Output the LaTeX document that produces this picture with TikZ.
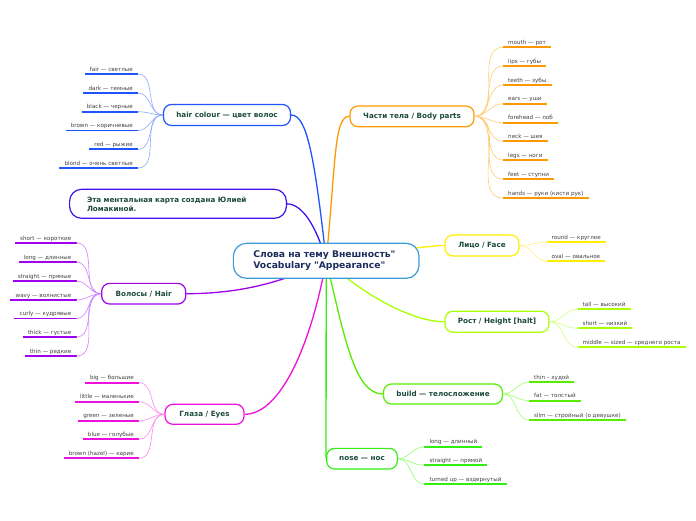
\documentclass[tikz,border=0pt]{standalone}
\usepackage{fontspec}
\setmainfont{DejaVu Sans}
\newfontfamily\dvplain{DejaVu Sans}
\usetikzlibrary{backgrounds,calc}
\definecolor{cBlue}{HTML}{1F55FF}
\definecolor{cBlueL}{HTML}{8FAAFF}
\definecolor{cOrange}{HTML}{FF9900}
\definecolor{cOrangeL}{HTML}{FFCC77}
\definecolor{cViolet}{HTML}{4411EE}
\definecolor{cPurple}{HTML}{A000EE}
\definecolor{cPurpleL}{HTML}{D080FF}
\definecolor{cYellow}{HTML}{FFEE00}
\definecolor{cYellowL}{HTML}{FFF280}
\definecolor{cLime}{HTML}{AAFF00}
\definecolor{cLimeL}{HTML}{D0FF80}
\definecolor{cGreen}{HTML}{55EE00}
\definecolor{cGreenL}{HTML}{A0FF70}
\definecolor{cMagenta}{HTML}{EE11DD}
\definecolor{cMagentaL}{HTML}{FF88F0}
\definecolor{cNose}{HTML}{33EE11}
\definecolor{cNoseL}{HTML}{90FF70}
\definecolor{cCenter}{HTML}{3C9AD8}
\definecolor{topicText}{HTML}{1B4A3C}
\definecolor{centerText}{HTML}{1C2D5E}
\definecolor{leafText}{HTML}{404040}
\tikzset{
  topic/.style={draw, fill=white, rounded corners=8pt, line width=1.2pt, text=topicText,
    font=\fontsize{7.2}{9}\selectfont\bfseries, inner sep=0pt},
  leafL/.style={anchor=south east, font=\fontsize{5.6}{6}\selectfont, text=leafText,
    inner xsep=5pt, inner ysep=1.5pt, text height=4.2pt, text depth=1.2pt},
  leafR/.style={leafL, anchor=south west},
  uline/.style={line width=1.8pt},
  branch/.style={line width=1.3pt},
  twig/.style={line width=0.6pt}
}
% name, x, y, text, colour, source
\newcommand\lfL[6]{%
  \node[leafL] (#1) at (#2,#3) {#4};
  \draw[uline,#5] (#1.south west) -- (#1.south east);
  \draw[twig,#5L] (#6) to[out=180,in=0] (#1.south east);}
\newcommand\lfR[6]{%
  \node[leafR] (#1) at (#2,#3) {#4};
  \draw[uline,#5] (#1.south west) -- (#1.south east);
  \draw[twig,#5L] (#6) to[out=0,in=180] (#1.south west);}
\begin{document}
\begin{tikzpicture}[x=1pt,y=-1pt]
\useasboundingbox (0,0) rectangle (696,520);

% central node
\node[draw=cCenter, fill=white, line width=1.2pt, rounded corners=13pt,
  minimum height=35pt, inner xsep=20pt, text width=145.7pt, align=left,
  text=centerText, font=\dvplain\fontsize{9.2}{11}\selectfont\bfseries] (c) at (326.2,260.8)
  {Слова на тему Внешность"\\Vocabulary "Appearance"};

% topics
\node[topic, draw=cBlue, minimum width=127pt, minimum height=21pt] (hc) at (227,115) {hair colour — цвет волос};
\node[topic, draw=cOrange, minimum width=124pt, minimum height=20.7pt] (bp) at (412,116.3) {Части тела / Body parts};
\node[topic, draw=cViolet, rounded corners=12pt, minimum height=29pt, inner xsep=17.4pt,
  text width=182pt, align=left, font=\fontsize{7.2}{9}\selectfont\bfseries] (mm) at (178,203.8)
  {Эта ментальная карта создана Юлией\\Ломакиной.};
\node[topic, draw=cYellow, minimum width=74pt, minimum height=21pt] (face) at (482,245.5) {Лицо / Face};
\node[topic, draw=cPurple, minimum width=84pt, minimum height=20.7pt] (hair) at (143.7,293.7) {Волосы / Hair};
\node[topic, draw=cLime, minimum width=104pt, minimum height=21pt] (ht) at (497,321.7) {Рост / Height [halt]};
\node[topic, draw=cGreen, minimum width=119pt, minimum height=20pt] (bd) at (443,394) {build — телосложение};
\node[topic, draw=cMagenta, minimum width=79pt, minimum height=20pt] (eyes) at (204.5,414.3) {Глаза / Eyes};
\node[topic, draw=cNose, minimum width=70.7pt, minimum height=20.7pt] (nose) at (362,458.7) {nose — нос};

% main connectors behind the nodes
\begin{pgfonlayer}{background}
  \fill[white] (0,0) rectangle (696,520);
  \draw[branch,cBlue] (c.center) .. controls (314,150) and (306,115) .. (hc.east);
  \draw[branch,cOrange] (c.center) .. controls (336,160) and (334,116.3) .. (bp.west);
  \draw[branch,cViolet] (c.center) .. controls (316,225) and (302,204) .. (mm.east);
  \draw[branch,cYellow] (c.center) .. controls (400,250) and (430,245.5) .. (face.west);
  \draw[branch,cPurple] (c.center) .. controls (285,282) and (240,293.7) .. (hair.east);
  \draw[branch,cLime] (c.center) .. controls (360,292) and (410,321.7) .. (ht.west);
  \draw[branch,cGreen] (c.center) .. controls (345,340) and (355,394) .. (bd.west);
  \draw[branch,cMagenta] (c.center) .. controls (312,340) and (282,414.3) .. (eyes.east);
  \draw[branch,cNose] (c.center) -- (nose.west);
\end{pgfonlayer}

% hair colour leaves
\lfL{hc1}{138}{74}{fair — светлые}{cBlue}{hc.west}
\lfL{hc2}{138}{93}{dark — темные}{cBlue}{hc.west}
\lfL{hc3}{138}{111.7}{black — черные}{cBlue}{hc.west}
\lfL{hc4}{138}{130.5}{brown — коричневые}{cBlue}{hc.west}
\lfL{hc5}{138}{149.3}{red — рыжие}{cBlue}{hc.west}
\lfL{hc6}{138}{168}{blond — очень светлые}{cBlue}{hc.west}

% body parts leaves
\lfR{bp1}{503}{47.3}{mouth — рот}{cOrange}{bp.east}
\lfR{bp2}{503}{66}{lips — губы}{cOrange}{bp.east}
\lfR{bp3}{503}{85}{teeth — зубы}{cOrange}{bp.east}
\lfR{bp4}{503}{103.7}{ears — уши}{cOrange}{bp.east}
\lfR{bp5}{503}{122.7}{forehead — лоб}{cOrange}{bp.east}
\lfR{bp6}{503}{141.3}{neck — шея}{cOrange}{bp.east}
\lfR{bp7}{503}{160}{legs — ноги}{cOrange}{bp.east}
\lfR{bp8}{503}{179}{feet — ступни}{cOrange}{bp.east}
\lfR{bp9}{503}{198}{hands — руки (кисти рук)}{cOrange}{bp.east}

% hair leaves
\lfL{h1}{76.5}{243}{short — короткие}{cPurple}{hair.west}
\lfL{h2}{76.5}{262}{long — длинные}{cPurple}{hair.west}
\lfL{h3}{76.5}{281}{straight — прямые}{cPurple}{hair.west}
\lfL{h4}{76.5}{300}{wavy — волнистые}{cPurple}{hair.west}
\lfL{h5}{76.5}{318.5}{curly — кудрявые}{cPurple}{hair.west}
\lfL{h6}{76.5}{337}{thick — густые}{cPurple}{hair.west}
\lfL{h7}{76.5}{356}{thin — редкие}{cPurple}{hair.west}

% face leaves
\lfR{f1}{546.5}{242.3}{round — круглое}{cYellow}{face.east}
\lfR{f2}{546.5}{261}{oval — овальное}{cYellow}{face.east}

% height leaves
\lfR{t1}{577.5}{309.3}{tall — высокий}{cLime}{ht.east}
\lfR{t2}{577.5}{328.3}{short — низкий}{cLime}{ht.east}
\lfR{t3}{577.5}{347.3}{middle — sized — среднего роста}{cLime}{ht.east}

% build leaves
\lfR{b1}{529}{382}{thin – худой}{cGreen}{bd.east}
\lfR{b2}{529}{400.7}{fat — толстый}{cGreen}{bd.east}
\lfR{b3}{529}{420}{slim — стройный (о девушке)}{cGreen}{bd.east}

% nose leaves
\lfR{n1}{424.3}{446.7}{long — длинный}{cNose}{nose.east}
\lfR{n2}{424.3}{465.3}{straight — прямой}{cNose}{nose.east}
\lfR{n3}{424.3}{484}{turned up — вздернутый}{cNose}{nose.east}

% eyes leaves
\lfL{e1}{139}{382.7}{big — большие}{cMagenta}{eyes.west}
\lfL{e2}{139}{401.7}{little — маленькие}{cMagenta}{eyes.west}
\lfL{e3}{139}{420.7}{green — зеленые}{cMagenta}{eyes.west}
\lfL{e4}{139}{439.3}{blue — голубые}{cMagenta}{eyes.west}
\lfL{e5}{139}{458.3}{brown (hazel) — карие}{cMagenta}{eyes.west}
\end{tikzpicture}
\end{document}
